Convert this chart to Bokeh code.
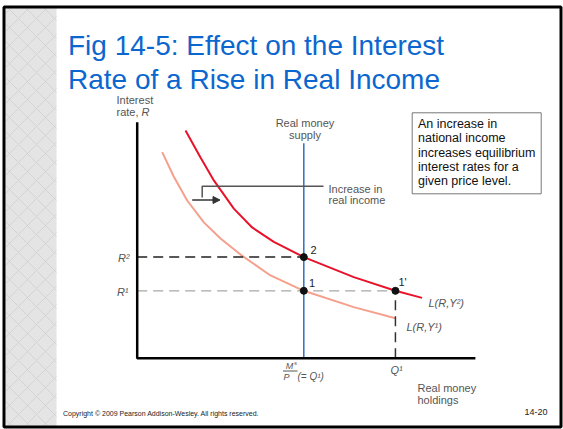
from bokeh.plotting import figure
from bokeh.models import Range1d, Arrow, NormalHead
from bokeh.core.properties import value
from bokeh.embed import file_html
from bokeh.resources import INLINE

# ---- data (Q = real money holdings, R = interest rate) ----
q_y2 = [2.9, 3.8, 4.6, 5.8, 6.9, 8.2, 10.0, 13.0, 15.5, 17.1]
r_y2 = [13.51, 11.91, 10.55, 8.88, 7.76, 6.9, 6.0, 4.81, 4.0, 3.58]
q_y1 = [1.5, 2.2, 3.0, 4.0, 5.0, 6.2, 8.0, 10.0, 13.0, 15.5]
r_y1 = [12.23, 10.77, 9.36, 8.06, 7.1, 6.15, 4.91, 4.0, 3.03, 2.37]
ms_p = 10.0        # real money supply M^s/P (= Q1)
q_one = 15.5       # Q1
r_one = 4.0        # R1
r_two = 6.0        # R2
eq_q = [ms_p, ms_p, q_one]
eq_r = [r_two, r_one, r_one]
eq_labels = ["2", "1", "1'"]
axis_q_max = 20.3
axis_r_max = 14.0
supply_top = 12.75
box_lines = ["An increase in", "national income", "increases equilibrium",
             "interest rates for a", "given price level."]
title_lines = ["Fig 14-5: Effect on the Interest", "Rate of a Rise in Real Income"]

# ---- layout: picture pixel -> data units ----
PXQ, PXR = 16.66, 16.85
OX, OY = 136.7, 357.7
def qx(px):
    return (px - OX) / PXQ
def ry(py):
    return (OY - py) / PXR

W, H = 563, 429
p = figure(width=W, height=H, x_range=Range1d(qx(0), qx(W)),
           y_range=Range1d(ry(H), ry(0)), output_backend="svg",
           toolbar_location=None, x_axis_type=None, y_axis_type=None,
           min_border=0, background_fill_color="white", border_fill_color="white",
           outline_line_color=None)
p.grid.visible = False

FONT = value("Liberation Sans")

# marble strip
p.quad(left=[qx(5)], right=[qx(56)], bottom=[ry(426)], top=[ry(7)],
       fill_color="#e4e4e4", line_color=None, hatch_pattern="x",
       hatch_color="#c4c4c4", hatch_scale=18, hatch_weight=1, hatch_alpha=0.5)
# slide frame
p.quad(left=[qx(3.5)], right=[qx(560.5)], bottom=[ry(426.5)], top=[ry(6.5)],
       fill_color=None, line_color="black", line_width=3)

# title
p.text(x=[qx(67.5)] * 2, y=[ry(45), ry(79)], text=title_lines, text_font=FONT,
       text_font_size="28px", text_color="#0b67cf", text_baseline="alphabetic")

# curves
p.line(q_y1, r_y1, line_color="#f5a08c", line_width=2)
p.line(q_y2, r_y2, line_color="#e8132b", line_width=2)
# money supply
p.line([ms_p, ms_p], [0, supply_top], line_color="#2f6fbf", line_width=1.5)
# dashed guides
p.line([0, ms_p], [r_two, r_two], line_color="#222222", line_width=1.5, line_dash="10 6")
p.line([0, q_one], [r_one, r_one], line_color="#a8a8a8", line_width=1.2, line_dash="10 6")
p.line([q_one, q_one], [0, r_one], line_color="#333333", line_width=1.5, line_dash="10 6")
# axes
p.line([0, 0, axis_q_max], [axis_r_max, 0, 0], line_color="black", line_width=2.5)

# bracket + arrow
p.line([qx(201.7), qx(201.7), qx(323)], [ry(197), ry(185.7), ry(185.7)],
       line_color="#555555", line_width=1.5)
p.add_layout(Arrow(end=NormalHead(size=7, fill_color="#333333", line_color="#333333"),
                   x_start=qx(191.7), y_start=ry(199.5), x_end=qx(219.5), y_end=ry(199.5),
                   line_color="#333333", line_width=1.5))

# equilibrium points
p.scatter(eq_q, eq_r, size=7, color="#111111")
p.text(x=[qx(310), qx(308.5), qx(398)], y=[ry(249.5), ry(282.5), ry(281.5)], text=eq_labels,
       text_font=FONT, text_font_size="11px", text_color="#222222", text_baseline="middle")

GRAY = "#555555"
# axis titles
p.text(x=[qx(116)] * 2, y=[ry(99), ry(111.5)], text=["Interest", "rate,"], text_font=FONT,
       text_font_size="11px", text_color=GRAY, text_baseline="middle")
p.text(x=[qx(141)], y=[ry(111.5)], text=["R"], text_font=FONT, text_font_style="italic",
       text_font_size="11px", text_color=GRAY, text_baseline="middle")
p.text(x=[qx(304.5)] * 2, y=[ry(122.5), ry(134)], text=["Real money", "supply"], text_font=FONT,
       text_font_size="11px", text_color=GRAY, text_baseline="middle", text_align="center")
p.text(x=[qx(328)] * 2, y=[ry(188), ry(199.5)], text=["Increase in", "real income"], text_font=FONT,
       text_font_size="11px", text_color=GRAY, text_baseline="middle")
p.text(x=[qx(417)] * 2, y=[ry(387.5), ry(399)], text=["Real money", "holdings"], text_font=FONT,
       text_font_size="11px", text_color=GRAY, text_baseline="middle")
# R labels
p.text(x=[qx(129), qx(128)], y=[ry(257), ry(291)], text=["R²", "R¹"], text_font=FONT,
       text_font_style="italic", text_font_size="11px", text_color=GRAY,
       text_baseline="middle", text_align="right")
# demand labels
p.text(x=[qx(428), qx(406)], y=[ry(302.5), ry(326.5)], text=["L(R,Y²)", "L(R,Y¹)"], text_font=FONT,
       text_font_style="italic", text_font_size="11px", text_color=GRAY, text_baseline="middle")
# Q labels
p.text(x=[qx(396)], y=[ry(369)], text=["Q¹"], text_font=FONT, text_font_style="italic",
       text_font_size="11px", text_color=GRAY, text_baseline="middle", text_align="center")
p.text(x=[qx(289), qx(286)], y=[ry(365.5), ry(376)], text=["M", "P"], text_font=FONT,
       text_font_style="italic", text_font_size="9px", text_color=GRAY,
       text_baseline="middle", text_align="center")
p.text(x=[qx(293.5)], y=[ry(362.5)], text=["s"], text_font=FONT, text_font_style="italic",
       text_font_size="6px", text_color=GRAY, text_baseline="middle")
p.line([qx(282.5), qx(297)], [ry(370.5), ry(370.5)], line_color=GRAY, line_width=1)
p.text(x=[qx(297)], y=[ry(375.5)], text=["(= Q¹)"], text_font=FONT, text_font_style="italic",
       text_font_size="10px", text_color=GRAY, text_baseline="middle")

# text box
p.quad(left=[qx(411.7)], right=[qx(540.7)], bottom=[ry(193.3)], top=[ry(112.3)],
       fill_color="white", line_color="#777777", line_width=1)
p.text(x=[qx(417.5)] * len(box_lines), y=[ry(123.3 + 14.35 * i) for i in range(len(box_lines))],
       text=box_lines, text_font=FONT, text_font_size="12.5px", text_color="#111111",
       text_baseline="middle")

# footer
p.text(x=[qx(62.5)], y=[ry(412.7)], text=["Copyright © 2009 Pearson Addison-Wesley. All rights reserved."],
       text_font=FONT, text_font_size="7px", text_color="#222222", text_baseline="middle")
p.text(x=[qx(547)], y=[ry(411.5)], text=["14-20"], text_font=FONT, text_font_size="9px",
       text_color="#222222", text_baseline="middle", text_align="right")

open("out.html", "w").write(file_html(p, INLINE))
